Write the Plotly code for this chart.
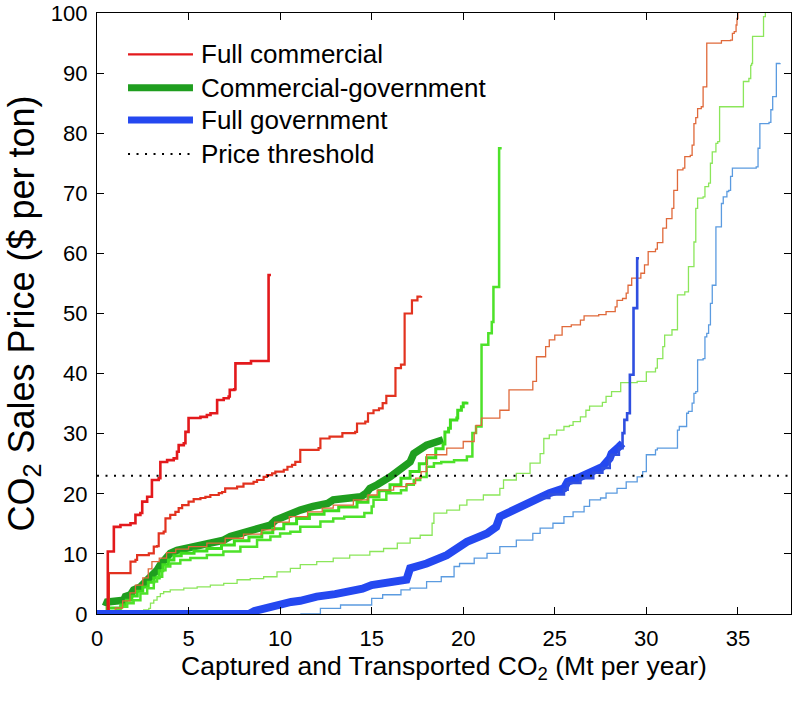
import plotly.graph_objects as go

# ---------------- data (x = Mt per year, y = $ per ton) ----------------
commercial_a = [(0.59, 0), (0.59, 10.4), (0.92, 10.4), (0.92, 14.5), (1.28, 14.8), (1.83, 15.1), (2.1, 16.5),
                (2.37, 16.8), (2.47, 18.7), (2.74, 19.5), (3.0, 20.6), (3.0, 22.3), (3.37, 22.6), (3.46, 25.3),
                (3.83, 25.6), (4.19, 25.9), (4.37, 27.0), (4.46, 28.1), (4.74, 28.4), (4.83, 30.3), (5.0, 32.0),
                (5.0, 32.6), (5.65, 32.8), (6.0, 33.1), (6.2, 33.4), (6.56, 33.9), (6.56, 35.6), (6.92, 35.9),
                (7.19, 36.2), (7.25, 37.3), (7.5, 37.4), (7.56, 41.7), (8.37, 41.7), (8.41, 42.1), (9.37, 42.1),
                (9.37, 56.4), (9.5, 56.4)]

commercial_b = [(0.65, 0), (0.65, 6.8), (1.37, 6.8), (1.83, 7.0), (1.83, 8.7), (2.1, 9.0), (2.19, 9.8),
                (2.83, 10.1), (3.1, 11.2), (3.28, 11.3), (3.37, 13.4), (3.64, 13.7), (3.74, 15.9), (4.0, 16.5),
                (4.28, 17.0), (4.46, 17.6), (4.65, 18.1), (5.0, 18.7), (5.28, 19.1), (5.65, 19.3), (5.92, 19.5),
                (6.19, 19.8), (6.65, 20.1), (6.83, 20.3), (7.0, 20.9), (7.65, 21.2), (8.0, 21.7), (8.55, 22.0),
                (8.74, 22.3), (9.1, 22.8), (9.28, 23.1), (9.56, 23.4), (9.74, 23.7), (10.2, 24.0), (10.4, 24.5),
                (10.65, 24.8), (10.83, 25.3), (11.1, 25.6), (11.1, 27.3), (12.1, 27.6), (12.2, 29.2), (12.7, 29.5),
                (13.4, 30.1), (14.1, 30.3), (14.2, 31.7), (14.65, 32.0), (14.8, 33.4), (15.1, 33.9), (15.4, 34.2),
                (15.6, 35.1), (15.8, 36.3), (16.3, 36.3), (16.3, 40.9), (16.6, 41.5), (16.8, 41.7), (16.8, 50.0),
                (17.1, 50.0), (17.2, 52.2), (17.5, 52.8), (17.7, 52.9)]

commercial_c = [(1.0, 0), (1.0, 1.0), (1.4, 2.2), (1.8, 3.5), (2.1, 4.8), (2.5, 6.0), (2.8, 7.5), (3.0, 8.7),
                (3.4, 9.3), (3.8, 10.2), (4.3, 10.8), (5.0, 11.2), (6.0, 11.8), (7.0, 12.6), (8.0, 13.3),
                (9.0, 14.0), (9.7, 15.3), (10.5, 16.2), (11.5, 17.0), (12.3, 17.6), (12.9, 18.1), (14.0, 19.0),
                (14.8, 19.8), (15.3, 20.6), (16.2, 21.2), (16.9, 21.7), (17.4, 22.6), (17.7, 23.7), (18.0, 26.5),
                (19.1, 27.6), (20.0, 28.7), (20.6, 30.1), (20.7, 31.4), (21.0, 32.6), (22.0, 33.9), (22.5, 37.3),
                (23.8, 38.7), (24.0, 42.8), (24.5, 44.5), (24.7, 45.6), (25.0, 46.4), (25.4, 47.8), (25.9, 48.1),
                (26.4, 48.9), (26.6, 49.6), (27.4, 49.8), (27.8, 50.3), (28.3, 51.1), (28.4, 52.2), (28.7, 52.5),
                (28.9, 53.4), (29.0, 54.7), (29.2, 55.9), (29.7, 56.7), (29.9, 58.1), (30.1, 60.3), (30.5, 60.7),
                (30.6, 61.8), (30.9, 64.2), (31.1, 65.8), (31.4, 67.5), (31.5, 70.5), (31.7, 70.5), (31.7, 73.9),
                (32.0, 74.2), (32.1, 76.1), (32.4, 76.3), (32.5, 78.0), (32.6, 78.3), (32.6, 81.6), (32.7, 82.6),
                (32.8, 84.1), (33.0, 84.4), (33.1, 87.7), (33.3, 88.0), (33.3, 95.0), (34.0, 95.0), (34.1, 95.4),
                (34.6, 95.5), (34.7, 96.6), (34.8, 96.9), (34.9, 98.0), (34.95, 99.1), (35.0, 100.5)]

cg_main = [(0.46, 1.3), (0.56, 2.0), (1.46, 2.3), (1.55, 2.9), (1.83, 3.2), (2.0, 4.0), (2.37, 4.5), (2.65, 5.4),
           (2.83, 5.9), (3.1, 6.5), (3.28, 7.3), (3.46, 8.2), (3.64, 9.0), (3.83, 9.5), (4.0, 10.1), (4.37, 10.6),
           (4.92, 10.9), (5.28, 11.2), (5.83, 11.5), (6.37, 11.8), (6.92, 12.3), (7.28, 12.9), (7.83, 13.4),
           (8.37, 13.7), (8.92, 14.3), (9.47, 14.8), (9.74, 15.6), (10.2, 16.2), (10.74, 16.8), (11.1, 17.3),
           (11.8, 17.9), (12.6, 18.4), (12.9, 19.0), (13.65, 19.3), (14.4, 19.5), (14.7, 20.1), (14.9, 20.9),
           (15.3, 21.5), (15.65, 22.0), (16.0, 22.8), (16.4, 23.7), (16.7, 24.5), (17.1, 25.3), (17.3, 26.7),
           (17.65, 27.6), (18.0, 28.1), (18.4, 28.5), (18.9, 29.0)]

cg_b = [(0.55, 0), (0.55, 1.0), (1.3, 1.5), (1.6, 2.3), (1.9, 3.0), (2.2, 3.8), (2.5, 4.5), (2.8, 5.3), (3.1, 6.0),
        (3.4, 7.2), (3.6, 8.2), (3.9, 9.0), (4.2, 9.7), (4.6, 10.1), (5.3, 10.5), (6.0, 10.9), (6.8, 11.5),
        (7.5, 12.2), (8.3, 12.8), (9.0, 13.5), (9.6, 14.2), (10.2, 15.0), (10.9, 15.9), (11.6, 16.6), (12.4, 17.2),
        (13.2, 17.8), (14.2, 18.6), (14.8, 19.5), (15.4, 20.5), (16.0, 21.5), (16.6, 22.6), (17.1, 23.7),
        (17.6, 25.0), (18.0, 26.0), (18.5, 27.5), (18.9, 28.3), (19.0, 30.3), (19.2, 30.9), (19.3, 32.3),
        (19.65, 32.6), (19.7, 33.9), (19.9, 34.5), (20.0, 35.1), (20.2, 35.3)]

cg_c = [(1.1, 0), (1.1, 0.7), (1.28, 1.2), (1.65, 1.8), (2.0, 2.3), (2.37, 3.4), (2.74, 4.3), (3.1, 5.4),
        (3.28, 6.2), (3.56, 7.3), (3.74, 7.9), (4.0, 8.4), (4.55, 9.0), (5.1, 9.3), (6.0, 9.8), (6.9, 10.4),
        (7.83, 11.2), (8.74, 12.3), (9.47, 12.9), (10.0, 13.4), (10.56, 13.7), (11.1, 14.5), (12.2, 15.4),
        (12.9, 15.9), (13.5, 16.2), (14.6, 16.8), (15.0, 17.9), (15.1, 19.0), (15.8, 20.1), (16.6, 20.6),
        (16.9, 21.5), (17.3, 22.3), (17.65, 22.8), (18.0, 24.5), (18.4, 25.1), (18.8, 25.3), (19.5, 25.6),
        (20.2, 26.2), (20.5, 26.7), (20.5, 30.1), (20.7, 31.2), (21.0, 32.3), (21.0, 44.8), (21.37, 46.7),
        (21.56, 48.6), (21.65, 54.4), (21.96, 77.5), (22.1, 77.5)]

cg_d = [(2.47, 0), (2.55, 0.7), (2.83, 0.95), (2.92, 1.8), (3.1, 2.3), (3.28, 2.9), (3.46, 3.4), (3.64, 3.7),
        (4.0, 4.0), (4.74, 4.3), (5.47, 4.5), (6.19, 4.8), (6.92, 5.1), (7.65, 5.7), (8.37, 5.9), (9.1, 6.2),
        (9.83, 7.0), (10.56, 7.6), (11.1, 8.2), (12.0, 8.7), (12.9, 9.3), (13.8, 9.8), (14.9, 10.4), (15.65, 10.9),
        (16.4, 11.8), (17.1, 12.6), (17.65, 13.1), (18.3, 15.1), (18.4, 16.8), (19.1, 17.3), (19.8, 18.1),
        (20.2, 19.0), (21.1, 19.8), (22.0, 20.9), (22.2, 22.3), (22.9, 23.4), (23.65, 25.1), (24.2, 26.7),
        (24.4, 29.2), (24.7, 29.8), (25.1, 30.6), (25.5, 31.2), (25.8, 31.4), (26.0, 32.0), (26.4, 32.8),
        (26.7, 33.9), (26.9, 34.6), (27.6, 35.2), (27.8, 36.2), (28.1, 37.0), (28.6, 38.5), (29.5, 38.7),
        (30.0, 40.3), (30.5, 40.9), (30.6, 42.5), (30.9, 44.5), (31.0, 46.4), (31.4, 47.3), (31.7, 48.1),
        (31.7, 53.1), (32.1, 53.6), (32.3, 57.8), (32.6, 61.9), (32.7, 67.5), (32.8, 69.2), (33.1, 69.4),
        (33.2, 71.1), (33.4, 71.7), (33.5, 75.0), (33.6, 76.9), (33.8, 78.3), (33.9, 78.6), (34.0, 84.4),
        (35.3, 84.7), (35.3, 88.6), (35.6, 89.1), (35.7, 91.3), (35.75, 91.6), (35.8, 96.1), (36.4, 96.1),
        (36.4, 99.4), (36.5, 100.5)]

gov_main = [(0, 0), (8.3, 0), (8.6, 0.5), (9.1, 0.95), (9.8, 1.5), (10.6, 2.0), (11.1, 2.2), (11.6, 2.6),
            (12.0, 2.9), (13.0, 3.3), (13.8, 3.7), (14.5, 4.2), (15.0, 4.8), (16.2, 5.4), (16.9, 5.7), (17.1, 7.6),
            (18.0, 8.4), (19.1, 9.8), (19.7, 11.2), (20.2, 12.0), (21.3, 13.4), (21.8, 14.5), (22.0, 16.2),
            (22.7, 17.3), (23.5, 18.4), (24.2, 19.5), (24.7, 20.1), (25.5, 20.9), (25.7, 22.0), (26.4, 22.8),
            (27.1, 23.7), (27.6, 24.5), (28.0, 25.9), (28.1, 26.7), (28.5, 27.8), (28.7, 28.4)]

gov_b = [(24.2, 19.3), (24.7, 19.9), (25.5, 20.7), (25.7, 21.8), (26.4, 22.6), (27.1, 23.5), (27.6, 24.3),
         (28.0, 25.7), (28.1, 26.5), (28.5, 27.6), (28.7, 30.1), (28.8, 32.3), (28.95, 33.4), (29.1, 33.9),
         (29.1, 39.8), (29.3, 40.0), (29.3, 50.9), (29.5, 51.1), (29.5, 59.2), (29.6, 59.2)]

gov_c = [(11.1, 0), (12.2, 0.95), (13.3, 1.5), (15.0, 2.6), (15.6, 3.2), (16.6, 4.0), (17.1, 4.3), (18.0, 5.4),
         (18.8, 6.2), (19.5, 7.9), (19.8, 8.4), (20.6, 9.3), (21.3, 10.1), (22.0, 11.2), (22.9, 12.3), (23.8, 13.4),
         (24.2, 14.3), (24.9, 15.1), (25.5, 16.2), (26.0, 17.0), (26.6, 17.9), (26.9, 19.0), (27.5, 19.3),
         (27.8, 20.1), (28.4, 20.9), (28.9, 22.0), (29.5, 22.8), (29.8, 23.7), (30.0, 26.5), (30.5, 27.3),
         (30.6, 27.6), (31.7, 27.8), (31.7, 30.6), (31.8, 31.2), (32.2, 33.4), (32.3, 33.7), (32.5, 35.1),
         (32.6, 36.7), (32.7, 37.0), (32.8, 42.3), (33.1, 42.5), (33.2, 46.1), (33.3, 46.7), (33.4, 48.1),
         (33.5, 51.7), (33.6, 54.7), (33.8, 55.3), (33.8, 64.4), (34.1, 65.0), (34.1, 68.3), (34.2, 69.4),
         (34.4, 70.3), (34.5, 70.5), (34.6, 72.8), (34.7, 74.2), (36.0, 74.4), (36.1, 77.5), (36.2, 77.8),
         (36.2, 81.6), (36.7, 81.8), (36.8, 83.9), (36.9, 84.4), (36.9, 86.1), (37.1, 86.6), (37.1, 88.0),
         (37.1, 91.6), (37.3, 91.7)]

threshold_x = [0, 37.9]
threshold_y = [23, 23]

x_ticks = [0, 5, 10, 15, 20, 25, 30, 35]
y_ticks = [0, 10, 20, 30, 40, 50, 60, 70, 80, 90, 100]

legend_labels = ["Full commercial", "Commercial-government", "Full government", "Price threshold"]

FONT = "Liberation Sans, Arial, Helvetica, sans-serif"


def split(pairs):
    return [p[0] for p in pairs], [p[1] for p in pairs]


fig = go.Figure()

curves = [
    (cg_main, "#1f9e1f", 7.5, "linear"),
    (cg_b, "#3fdc1e", 3, "hv"),
    (cg_c, "#4ee22a", 2.5, "hv"),
    (cg_d, "#8be65a", 1.3, "hv"),
    (commercial_c, "#e0693a", 1.3, "hv"),
    (commercial_b, "#e2321f", 2.2, "hv"),
    (commercial_a, "#e3191c", 2.6, "hv"),
    (gov_c, "#5b9be0", 1.3, "hv"),
    (gov_main, "#2448f0", 8, "linear"),
    (gov_b, "#2f4fe0", 2.6, "hv"),
]
for pairs, color, width, shape in curves:
    xs, ys = split(pairs)
    fig.add_trace(go.Scatter(x=xs, y=ys, mode="lines", line=dict(color=color, width=width, shape=shape),
                             showlegend=False, hoverinfo="skip"))

fig.add_trace(go.Scatter(x=threshold_x, y=threshold_y, mode="lines",
                         line=dict(color="black", width=2.2, dash="2px,6.5px"),
                         showlegend=False, hoverinfo="skip"))

# ---- manual legend (paper coordinates) ----
legend_styles = [("#e3191c", 2.2, "solid"), ("#1f9e1f", 7, "solid"), ("#2448f0", 7, "solid"),
                 ("black", 2.2, "2px,6.5px")]
legend_rows = [0.9313, 0.8757, 0.8220, 0.7654]
shapes = []
annotations = []
for label, (c, w, d), yy in zip(legend_labels, legend_styles, legend_rows):
    shapes.append(dict(type="line", xref="paper", yref="paper", x0=0.0447, x1=0.1383, y0=yy, y1=yy,
                       line=dict(color=c, width=w, dash=d)))
    annotations.append(dict(xref="paper", yref="paper", x=0.1470, y=yy, text=label, showarrow=False,
                            xanchor="left", yanchor="middle", font=dict(family=FONT, size=26, color="black")))

axis_common = dict(showline=True, mirror="ticks", linecolor="black", linewidth=1.3, ticks="inside",
                   ticklen=7, tickwidth=1.2, tickcolor="black", showgrid=False, zeroline=False,
                   automargin=False, ticklabelstandoff=4, ticklabeloverflow="allow",
                   tickfont=dict(family=FONT, size=22, color="black"))

fig.update_layout(
    width=793, height=702,
    margin=dict(l=97, r=2, t=13, b=88, autoexpand=False),
    paper_bgcolor="white", plot_bgcolor="white",
    shapes=shapes, annotations=annotations,
    xaxis=dict(range=[0, 37.9], tickvals=x_ticks, ticktext=[str(v) for v in x_ticks],
               title=dict(text="Captured and Transported CO<sub>2</sub> (Mt per year)",
                          font=dict(family=FONT, size=26.5, color="black"), standoff=0),
               **axis_common),
    yaxis=dict(range=[0, 100], tickvals=y_ticks, ticktext=[str(v) for v in y_ticks],
               title=dict(text="CO<sub>2</sub> Sales Price ($ per ton)",
                          font=dict(family=FONT, size=36, color="black"), standoff=5),
               **axis_common),
)

# remove the default 8px page margin so the figure sits at the window origin
fig.write_html("out.html", config={"displayModeBar": False},
               post_script="document.body.style.margin='0';document.body.style.overflow='hidden';")
